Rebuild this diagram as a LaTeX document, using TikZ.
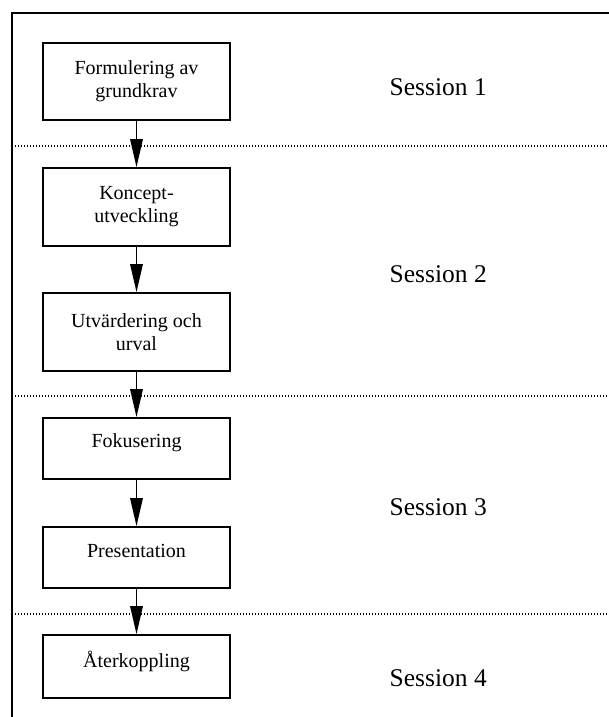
\documentclass[tikz,border=0pt]{standalone}
\usepackage{fontspec}
\setmainfont{Liberation Serif}
\usetikzlibrary{arrows.meta}
\begin{document}
\begin{tikzpicture}[x=1pt,y=-1pt,
  box/.style={draw, line width=1.7pt, minimum width=187pt, inner sep=0pt,
              font=\fontsize{20}{23}\selectfont, align=center},
  txt/.style={font=\fontsize{20}{23}\selectfont, anchor=base, inner sep=0pt},
  sess/.style={font=\fontsize{25.5}{28}\selectfont, anchor=base west, inner sep=0pt},
  flow/.style={line width=1.6pt, -{Triangle[length=28pt,width=12.5pt]}},
  sep/.style={line width=1.3pt, dash pattern=on 1.2pt off 1.8pt},
  frame/.style={line width=1.9pt}]
\useasboundingbox (0,0) rectangle (609,717);
% frame
\coordinate (fb) at (12,717);
\coordinate (ftl) at (12,13);
\coordinate (ftr) at (609,13);
\draw[frame] (fb) -- (ftl) -- (ftr);
% session separators
\coordinate (l1) at (12,146);  \coordinate (r1) at (609,146);
\coordinate (l2) at (12,396);  \coordinate (r2) at (609,396);
\coordinate (l3) at (12,614);  \coordinate (r3) at (609,614);
\draw[sep] (l1) -- (r1);
\draw[sep] (l2) -- (r2);
\draw[sep] (l3) -- (r3);
% boxes
\node[box, minimum height=77pt] (b1) at (136.5,81.5) {Formulering av\\grundkrav};
\node[box, minimum height=78pt] (b2) at (136.5,207) {Koncept-\\utveckling};
\node[box, minimum height=78pt] (b3) at (136.5,332) {Utvärdering och\\urval};
\node[box, minimum height=61pt] (b4) at (136.5,448.5) {};
\node[box, minimum height=61pt] (b5) at (136.5,557.5) {};
\node[box, minimum height=63pt] (b6) at (136.5,666.5) {};
\node[txt] (t4) at (136.5,447) {Fokusering};
\node[txt] (t5) at (136.5,557.7) {Presentation};
\node[txt] (t6) at (136.5,667) {Återkoppling};
% arrows
\draw[flow] (b1) -- (b2);
\draw[flow] (b2) -- (b3);
\draw[flow] (b3) -- (b4);
\draw[flow] (b4) -- (b5);
\draw[flow] (b5) -- (b6);
% session labels
\node[sess] (s1) at (389.5,95.7) {Session 1};
\node[sess] (s2) at (389.5,282.7) {Session 2};
\node[sess] (s3) at (389.5,515.3) {Session 3};
\node[sess] (s4) at (389.5,686.7) {Session 4};
\end{tikzpicture}
\end{document}
